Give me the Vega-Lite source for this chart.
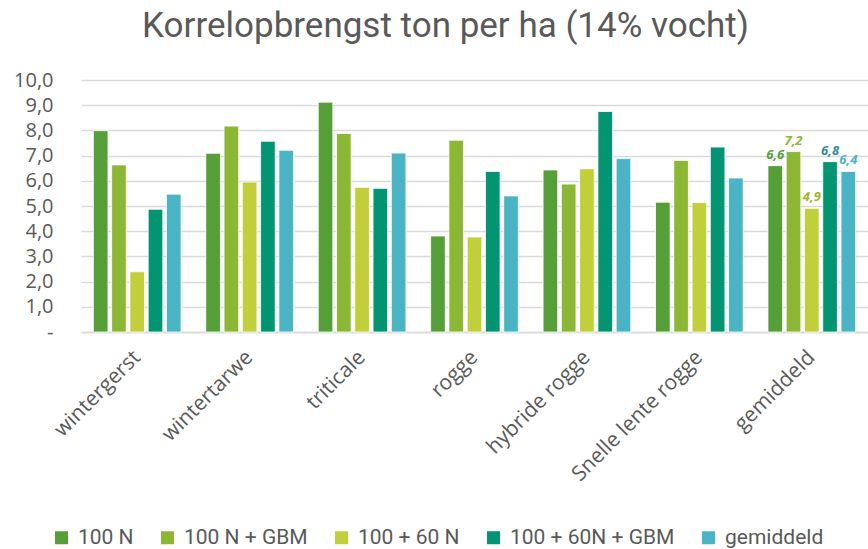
{
  "$schema": "https://vega.github.io/schema/vega-lite/v6.json",
  "width": 787,
  "height": 252,
  "autosize": "none",
  "padding": {"left": 81, "top": 80, "right": 0, "bottom": 217},
  "background": "white",
  "title": {
    "text": "Korrelopbrengst ton per ha (14% vocht)",
    "fontSize": 35,
    "font": "Roboto",
    "fontWeight": "normal",
    "color": "#595959",
    "anchor": "middle",
    "dx": -29,
    "offset": 26
  },
  "config": {
    "view": {"stroke": null},
    "font": "Open Sans",
    "locale": {"number": {"decimal": ",", "thousands": ".", "grouping": [3], "currency": ["€", ""]}}
  },
  "data": {
    "values": [
      {"cat": "wintergerst", "series": "100 N", "value": 7.99},
      {"cat": "wintergerst", "series": "100 N + GBM", "value": 6.63},
      {"cat": "wintergerst", "series": "100 + 60 N", "value": 2.39},
      {"cat": "wintergerst", "series": "100 + 60N + GBM", "value": 4.87},
      {"cat": "wintergerst", "series": "gemiddeld", "value": 5.47},
      {"cat": "wintertarwe", "series": "100 N", "value": 7.09},
      {"cat": "wintertarwe", "series": "100 N + GBM", "value": 8.17},
      {"cat": "wintertarwe", "series": "100 + 60 N", "value": 5.95},
      {"cat": "wintertarwe", "series": "100 + 60N + GBM", "value": 7.57},
      {"cat": "wintertarwe", "series": "gemiddeld", "value": 7.21},
      {"cat": "triticale", "series": "100 N", "value": 9.12},
      {"cat": "triticale", "series": "100 N + GBM", "value": 7.88},
      {"cat": "triticale", "series": "100 + 60 N", "value": 5.74},
      {"cat": "triticale", "series": "100 + 60N + GBM", "value": 5.7},
      {"cat": "triticale", "series": "gemiddeld", "value": 7.1},
      {"cat": "rogge", "series": "100 N", "value": 3.81},
      {"cat": "rogge", "series": "100 N + GBM", "value": 7.61},
      {"cat": "rogge", "series": "100 + 60 N", "value": 3.77},
      {"cat": "rogge", "series": "100 + 60N + GBM", "value": 6.37},
      {"cat": "rogge", "series": "gemiddeld", "value": 5.4},
      {"cat": "hybride rogge", "series": "100 N", "value": 6.43},
      {"cat": "hybride rogge", "series": "100 N + GBM", "value": 5.87},
      {"cat": "hybride rogge", "series": "100 + 60 N", "value": 6.48},
      {"cat": "hybride rogge", "series": "100 + 60N + GBM", "value": 8.75},
      {"cat": "hybride rogge", "series": "gemiddeld", "value": 6.88},
      {"cat": "Snelle lente rogge", "series": "100 N", "value": 5.15},
      {"cat": "Snelle lente rogge", "series": "100 N + GBM", "value": 6.81},
      {"cat": "Snelle lente rogge", "series": "100 + 60 N", "value": 5.14},
      {"cat": "Snelle lente rogge", "series": "100 + 60N + GBM", "value": 7.34},
      {"cat": "Snelle lente rogge", "series": "gemiddeld", "value": 6.11},
      {"cat": "gemiddeld", "series": "100 N", "value": 6.6},
      {"cat": "gemiddeld", "series": "100 N + GBM", "value": 7.16},
      {"cat": "gemiddeld", "series": "100 + 60 N", "value": 4.91},
      {"cat": "gemiddeld", "series": "100 + 60N + GBM", "value": 6.76},
      {"cat": "gemiddeld", "series": "gemiddeld", "value": 6.37}
    ]
  },
  "encoding": {
    "x": {
      "field": "cat",
      "type": "nominal",
      "sort": null,
      "title": null,
      "scale": {"paddingInner": 0.22, "paddingOuter": 0.11},
      "axis": {
        "labelAngle": -45,
        "labelAlign": "right",
        "labelBaseline": "middle",
        "labelFontSize": 21,
        "labelColor": "#595959",
        "labelPadding": 22,
        "labelDx": 6,
        "ticks": false,
        "domain": true,
        "domainColor": "#d9d9d9",
        "domainWidth": 1.5,
        "labelLimit": 300
      }
    },
    "xOffset": {
      "field": "series",
      "type": "nominal",
      "sort": null,
      "scale": {"paddingInner": 0.2}
    },
    "y": {
      "field": "value",
      "type": "quantitative",
      "title": null,
      "scale": {"domain": [0, 10], "nice": false},
      "axis": {
        "values": [0, 1, 2, 3, 4, 5, 6, 7, 8, 9, 10],
        "labelExpr": "datum.value == 0 ? '-' : replace(format(datum.value, '.1f'), '.', ',')",
        "labelFontSize": 20,
        "labelColor": "#595959",
        "labelPadding": 28,
        "ticks": false,
        "domain": false,
        "grid": true,
        "gridColor": "#d9d9d9",
        "gridWidth": 1.5
      }
    }
  },
  "layer": [
    {
      "mark": {"type": "bar", "stroke": "white", "strokeWidth": 0.8},
      "encoding": {
        "color": {
          "field": "series",
          "type": "nominal",
          "scale": {
            "domain": ["100 N", "100 N + GBM", "100 + 60 N", "100 + 60N + GBM", "gemiddeld"],
            "range": ["#559e38", "#8bb734", "#c1d03a", "#039472", "#4ab4c4"]
          },
          "legend": {
            "title": null,
            "orient": "none",
            "direction": "horizontal",
            "legendX": -30,
            "legendY": 447,
            "symbolType": "square",
            "symbolSize": 169,
            "symbolStrokeWidth": 0,
            "symbolOpacity": 1,
            "labelFontSize": 21,
            "labelFont": "Roboto",
            "labelColor": "#595959",
            "labelLimit": 400,
            "columnPadding": 23,
            "labelOffset": 6
          }
        }
      }
    },
    {
      "transform": [{"filter": "datum.cat == 'gemiddeld'"}],
      "mark": {
        "type": "text",
        "baseline": "bottom",
        "dy": -4,
        "fontSize": 13,
        "fontWeight": "bold",
        "fontStyle": "italic"
      },
      "encoding": {
        "text": {"field": "value", "type": "quantitative", "format": ".1f"},
        "color": {
          "field": "series",
          "type": "nominal",
          "scale": {
            "domain": ["100 N", "100 N + GBM", "100 + 60 N", "100 + 60N + GBM", "gemiddeld"],
            "range": ["#559e38", "#8bb734", "#a9b030", "#2e8c9c", "#4ab4c4"]
          },
          "legend": null
        }
      }
    }
  ],
  "resolve": {"scale": {"color": "independent"}}
}
